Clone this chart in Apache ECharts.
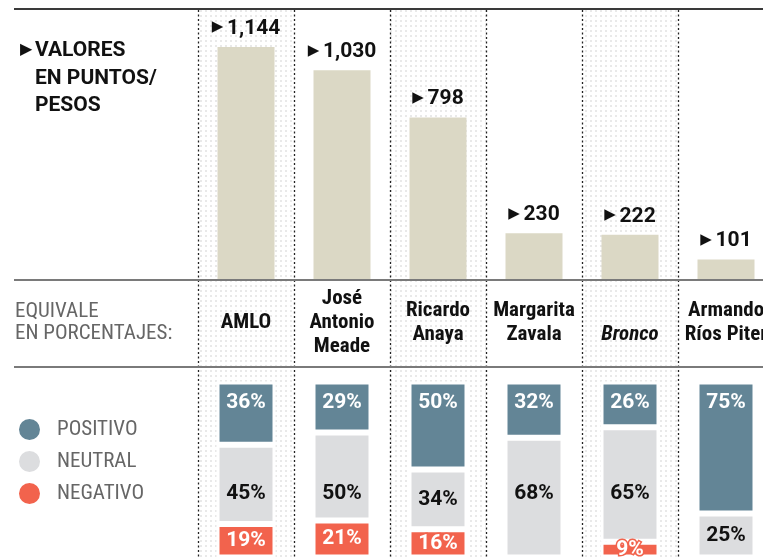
<!DOCTYPE html>
<html><head><meta charset="utf-8">
<script src="https://cdn.jsdelivr.net/npm/echarts@6/dist/echarts.min.js"></script>
<style>html,body{margin:0;padding:0;background:#fff}#main{width:763px;height:557px}</style>
</head><body><div id="main"></div>
<script>
// ---- data ----
const candidates = ['AMLO', 'José\nAntonio\nMeade', 'Ricardo\nAnaya', 'Margarita\nZavala', 'Bronco', 'Armando\nRíos Piter'];
const valores = [1144, 1030, 798, 230, 222, 101];
const positivo = [36, 29, 50, 32, 26, 75];
const neutral = [45, 50, 34, 68, 65, 25];
const negativo = [19, 21, 16, 0, 9, 0];
const seriesNames = ['POSITIVO', 'NEUTRAL', 'NEGATIVO'];
const headerLines = ['VALORES', 'EN PUNTOS/', 'PESOS'];
const subHeaderLines = ['EQUIVALE', 'EN PORCENTAJES:'];

// ---- styles ----
const FONT = "'Roboto Condensed', 'Open Sans Condensed', Roboto, sans-serif";
const FONT_W = "Roboto, 'Roboto Condensed', sans-serif";
const C_POS = '#638596', C_NEU = '#dcdddf', C_NEG = '#f2634d', C_BAR = '#dbd8c5';

const pc = document.createElement('canvas');
pc.width = 5; pc.height = 5;
const pctx = pc.getContext('2d');
pctx.fillStyle = '#e9e9e9';
pctx.fillRect(0, 0, 2, 2);
const dotPattern = { image: pc, repeat: 'repeat' };

const catData = candidates.map(c => c === 'Bronco' ? { value: c, textStyle: { fontStyle: 'italic' } } : c);
const fmtNum = v => v.toLocaleString('en-US');
const pctLabel = p => p.value ? p.value + '%' : '';

const chart = echarts.init(document.getElementById('main'), null, { renderer: 'canvas' });

const graphics = [
  { type: 'line', z: 10, shape: { x1: 14, y1: 9, x2: 763, y2: 9 }, style: { stroke: '#3a3a3a', lineWidth: 2 } },
  { type: 'line', z: 10, shape: { x1: 14, y1: 280, x2: 763, y2: 280 }, style: { stroke: '#7a7a7a', lineWidth: 2 } },
  { type: 'line', z: 10, shape: { x1: 14, y1: 367, x2: 763, y2: 367 }, style: { stroke: '#7a7a7a', lineWidth: 2 } },
  { type: 'text', z: 10, x: 20, y: 50, style: { text: '▶', font: '16px DejaVu Sans', fill: '#111', verticalAlign: 'middle' } },
];
headerLines.forEach((t, i) => graphics.push({
  type: 'text', z: 10, x: 35, y: 51 + i * 27.5,
  style: { text: t, font: "bold 21px " + FONT_W, fill: '#111', verticalAlign: 'middle' }
}));
subHeaderLines.forEach((t, i) => graphics.push({
  type: 'text', z: 10, x: 15, y: 312 + i * 22,
  style: { text: t, font: "21px " + FONT, fill: '#666', verticalAlign: 'middle' }
}));

const gridBase = { left: 198, width: 576, outerBoundsMode: 'none', containLabel: false };

const option = {
  backgroundColor: '#fff',
  animation: false,
  textStyle: { fontFamily: FONT },
  legend: {
    data: seriesNames, orient: 'vertical', left: 17, top: 417, padding: 0,
    icon: 'circle', itemWidth: 23, itemHeight: 23, itemGap: 7,
    textStyle: { fontSize: 21, lineHeight: 23, color: '#666', fontFamily: FONT, padding: [0, 0, 0, 11] },
    selectedMode: false
  },
  grid: [
    Object.assign({ top: 47, height: 233 }, gridBase),
    Object.assign({ top: 381.5, height: 176 }, gridBase),
    Object.assign({ top: 10, height: 547 }, gridBase)
  ],
  xAxis: [
    { type: 'category', gridIndex: 0, data: catData, axisLine: { show: false }, axisTick: { show: false },
      axisLabel: { interval: 0, margin: 43, verticalAlign: 'middle', fontSize: 21, fontWeight: 'bold', color: '#111', lineHeight: 24, fontFamily: FONT, hideOverlap: false } },
    { type: 'category', gridIndex: 1, data: candidates, show: false },
    { type: 'category', gridIndex: 2, data: candidates, axisLine: { show: false }, axisTick: { show: false }, axisLabel: { show: false },
      splitLine: { show: true, interval: 0, lineStyle: { color: '#222', width: 1.3, type: [2, 2.5] } },
      splitArea: { show: true, interval: 0, areaStyle: { color: [dotPattern, 'rgba(255,255,255,0)'] } } }
  ],
  yAxis: [
    { type: 'value', gridIndex: 0, min: 0, max: 1144, show: false },
    { type: 'value', gridIndex: 1, min: 0, max: 100, show: false },
    { type: 'value', gridIndex: 2, show: false }
  ],
  series: [
    { type: 'bar', name: 'valores', xAxisIndex: 0, yAxisIndex: 0, data: valores, barWidth: 57,
      itemStyle: { color: C_BAR },
      label: { show: true, position: 'top', distance: 8,
        formatter: p => '{t|▶} {v|' + fmtNum(p.value) + '}',
        rich: { t: { fontSize: 15, fontFamily: 'DejaVu Sans', color: '#111', padding: [0, 1, 2, 0] },
                v: { fontSize: 21, fontWeight: 'bold', color: '#111', fontFamily: FONT_W } } } },
    { type: 'bar', name: 'NEGATIVO', xAxisIndex: 1, yAxisIndex: 1, stack: 'p', data: negativo, barWidth: 59,
      itemStyle: { color: C_NEG, borderColor: '#fff', borderWidth: 3 },
      label: { show: true, position: 'inside', formatter: pctLabel, fontSize: 21, fontWeight: 'bold', color: '#fff',
        textBorderColor: C_NEG, textBorderWidth: 3, fontFamily: FONT_W } },
    { type: 'bar', name: 'NEUTRAL', xAxisIndex: 1, yAxisIndex: 1, stack: 'p', data: neutral, barWidth: 59,
      itemStyle: { color: C_NEU, borderColor: '#fff', borderWidth: 3 },
      label: { show: true, position: 'inside', formatter: pctLabel, fontSize: 21, fontWeight: 'bold', color: '#111', fontFamily: FONT_W },
      labelLayout: p => (p.rect.height > 60 ? { x: p.rect.x + p.rect.width / 2, y: 494, align: 'center', verticalAlign: 'middle' } : {}) },
    { type: 'bar', name: 'POSITIVO', xAxisIndex: 1, yAxisIndex: 1, stack: 'p', data: positivo, barWidth: 59,
      itemStyle: { color: C_POS, borderColor: '#fff', borderWidth: 3 },
      label: { show: true, position: 'insideTop', distance: 11, formatter: pctLabel, fontSize: 21, fontWeight: 'bold', color: '#fff', fontFamily: FONT_W } }
  ],
  graphic: graphics
};
chart.setOption(option);
</script></body></html>
